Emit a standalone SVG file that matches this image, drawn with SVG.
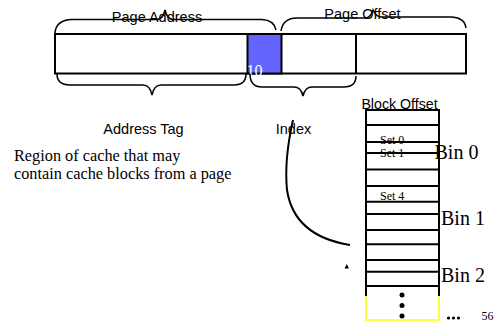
<svg xmlns="http://www.w3.org/2000/svg" width="502" height="326" viewBox="0 0 502 326">
<style>
.box{fill:#fff;stroke:#000;stroke-width:2}
.ln{fill:none;stroke:#000;stroke-width:2}
.thin{fill:none;stroke:#000;stroke-width:1.5}
.sans{font-family:"Liberation Sans",Arial,sans-serif;fill:#000}
.serif{font-family:"Liberation Serif","Times New Roman",serif;fill:#000}
</style>
<rect width="502" height="326" fill="#fff"/>
<g id="address-bar">
<rect class="box" x="55" y="34" width="411" height="39.5"/>
<rect x="247.5" y="34" width="34" height="39.5" fill="#6464ff" stroke="#000" stroke-width="2"/>
<line class="ln" x1="356" y1="34" x2="356" y2="73.5"/>
<text class="serif" x="246.5" y="75.5" font-size="16" style="fill:#fff">10</text>
</g>
<g id="page-address">
<path class="thin" d="M55,33 Q56,20 72,19.5 L157,19.5 Q163,19 165,10 Q167,19 173,19.5 L262,19.5 Q274,20 276,30"/>
<text class="sans" x="157" y="21.5" font-size="14.5" text-anchor="middle">Page Address</text>
</g>
<g id="page-offset">
<path class="thin" d="M281,31 Q283,18 297,18 L366,18 Q371,17 373,10 Q376,17 382,17 L452,17 Q465,18 466,28"/>
<text class="sans" x="362.5" y="19" font-size="14.5" text-anchor="middle">Page Offset</text>
</g>
<g id="address-tag">
<path class="thin" d="M57,74 Q57,85 70,85 L143,85 Q150,85 152,95 Q154,85 161,85 L234,85 Q246,85 246,74"/>
<text class="sans" x="143.5" y="133.5" font-size="14.5" text-anchor="middle">Address Tag</text>
</g>
<g id="index">
<path class="thin" d="M250,74 Q250,87 262,87 L294,87 Q301,87 303,96 Q305,87 312,87 L344,87 Q356,87 356,76"/>
<text class="sans" x="293.5" y="133.5" font-size="14.5" text-anchor="middle">Index</text>
</g>
<g id="region-label">
<text class="serif" x="14" y="161" font-size="16.3">Region of cache that may</text>
<text class="serif" x="14" y="179" font-size="16.3">contain cache blocks from a page</text>
</g>
<g id="cache">
<text class="sans" x="399.5" y="108.5" font-size="14.2" text-anchor="middle">Block Offset</text>
<path d="M366,286 V320 H439 V286" fill="none" stroke="#ffff00" stroke-width="1.5"/>
<line class="ln" x1="366" y1="110" x2="439" y2="110"/>
<line class="ln" x1="366" y1="125" x2="439" y2="125"/>
<line class="ln" x1="366" y1="142" x2="439" y2="142"/>
<line class="ln" x1="366" y1="153" x2="439" y2="153"/>
<line class="ln" x1="366" y1="169.5" x2="439" y2="169.5"/>
<line class="ln" x1="366" y1="186" x2="439" y2="186"/>
<line class="ln" x1="366" y1="201.7" x2="439" y2="201.7"/>
<line class="ln" x1="366" y1="214" x2="439" y2="214"/>
<line class="ln" x1="366" y1="230" x2="439" y2="230"/>
<line class="ln" x1="366" y1="244.3" x2="439" y2="244.3"/>
<line class="ln" x1="366" y1="260" x2="439" y2="260"/>
<line class="ln" x1="366" y1="271.7" x2="439" y2="271.7"/>
<line class="ln" x1="366" y1="286" x2="439" y2="286"/>
<line class="ln" x1="366" y1="109" x2="366" y2="296"/>
<line class="ln" x1="439" y1="109" x2="439" y2="296"/>
<text class="serif" x="380" y="143.5" font-size="12">Set 0</text>
<text class="serif" x="380" y="156.5" font-size="12">Set 1</text>
<text class="serif" x="380" y="200" font-size="12">Set 4</text>
<text class="serif" x="434.5" y="159" font-size="20">Bin 0</text>
<text class="serif" x="441" y="225" font-size="20">Bin 1</text>
<text class="serif" x="441" y="282" font-size="20">Bin 2</text>
<circle cx="402" cy="295" r="2.5"/>
<circle cx="402" cy="305.5" r="2.5"/>
<circle cx="402" cy="316" r="2.5"/>
<circle cx="448.5" cy="318" r="1.6"/>
<circle cx="453.5" cy="318" r="1.6"/>
<circle cx="458.5" cy="318" r="1.6"/>
<text class="serif" x="481.5" y="320" font-size="12">56</text>
</g>
<g id="connectors">
<path class="ln" stroke-width="1.6" d="M293,120 Q284,160 287,190 Q294,236 350,245"/>
<polygon points="346.7,264 344.5,268.5 349,268.5" fill="#000"/>
</g>
</svg>
